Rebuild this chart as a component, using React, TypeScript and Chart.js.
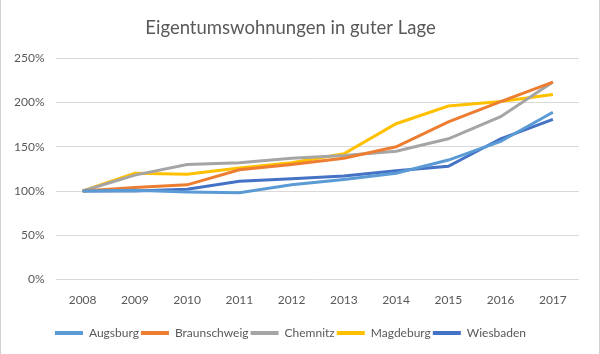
import React, { useEffect, useRef } from "react";
import { Chart, registerables } from "chart.js";

Chart.register(...registerables);

const years = ["2008", "2009", "2010", "2011", "2012", "2013", "2014", "2015", "2016", "2017"];
const augsburg = [100, 101, 99, 98, 107, 113, 120, 135, 156, 189];
const braunschweig = [100, 104, 107, 124, 130, 137, 150, 178, 201, 223];
const chemnitz = [100, 118, 130, 132, 137, 140, 145, 159, 184, 223];
const magdeburg = [100, 120, 119, 126, 132, 142, 176, 196, 201, 209];
const wiesbaden = [100, 100, 102, 111, 114, 117, 123, 128, 159, 181];

const seriesNames = ["Augsburg", "Braunschweig", "Chemnitz", "Magdeburg", "Wiesbaden"];
const seriesValues = [augsburg, braunschweig, chemnitz, magdeburg, wiesbaden];
const seriesColors = ["#5B9BD5", "#ED7D31", "#A5A5A5", "#FFC000", "#4472C4"];

const title = "Eigentumswohnungen in guter Lage";
const fontFamily = "Lato, 'Open Sans', sans-serif";

export default function App() {
  const ref = useRef<HTMLCanvasElement | null>(null);

  useEffect(() => {
    document.body.style.margin = "0";
    const canvas = ref.current;
    if (!canvas) return;
    const chart = new Chart(canvas, {
      type: "line",
      data: {
        labels: years,
        datasets: seriesNames.map((name, i) => ({
          label: name,
          data: seriesValues[i],
          borderColor: seriesColors[i],
          backgroundColor: seriesColors[i],
          borderWidth: 3,
          pointRadius: 0,
          tension: 0,
          fill: false,
        })),
      },
      options: {
        animation: false,
        responsive: false,
        maintainAspectRatio: false,
        layout: { padding: { left: 1, right: 20, top: 0, bottom: 5 } },
        plugins: {
          title: {
            display: true,
            text: title,
            color: "#595959",
            font: { family: fontFamily, size: 18.5, weight: "normal" },
            padding: { top: 17, bottom: 19 },
          },
          legend: {
            position: "bottom",
            labels: {
              color: "#595959",
              font: { family: fontFamily, size: 12 },
              boxWidth: 28,
              boxHeight: 4,
              padding: 2,
              generateLabels: (c: any) =>
                c.data.datasets.map((ds: any, i: number) => ({
                  text: ds.label,
                  fillStyle: ds.borderColor,
                  strokeStyle: ds.borderColor,
                  lineWidth: 0,
                  hidden: false,
                  datasetIndex: i,
                  fontColor: "#595959",
                })),
            },
          },
          tooltip: { enabled: false },
        },
        scales: {
          x: {
            offset: true,
            grid: { display: false, drawTicks: false },
            border: { display: false },
            ticks: {
              color: "#595959",
              font: { family: fontFamily, size: 12 },
              padding: 13,
              maxRotation: 0,
            },
            afterFit: (scale: any) => {
              scale.height += 5;
            },
          },
          y: {
            min: 0,
            max: 250,
            grid: { color: "#d9d9d9", drawTicks: false, lineWidth: 1 },
            border: { display: false },
            ticks: {
              stepSize: 50,
              color: "#595959",
              font: { family: fontFamily, size: 12 },
              padding: 12,
              callback: (v: any) => `${v}%`,
            },
          },
        },
      },
    });
    return () => chart.destroy();
  }, []);

  return (
    <div
      style={{
        position: "relative",
        width: 598,
        height: 354,
        borderLeft: "1px solid #d0d0d0",
        borderRight: "1px solid #d0d0d0",
        background: "#fff",
      }}
    >
      <canvas ref={ref} width={598} height={354} style={{ display: "block" }} />
    </div>
  );
}
